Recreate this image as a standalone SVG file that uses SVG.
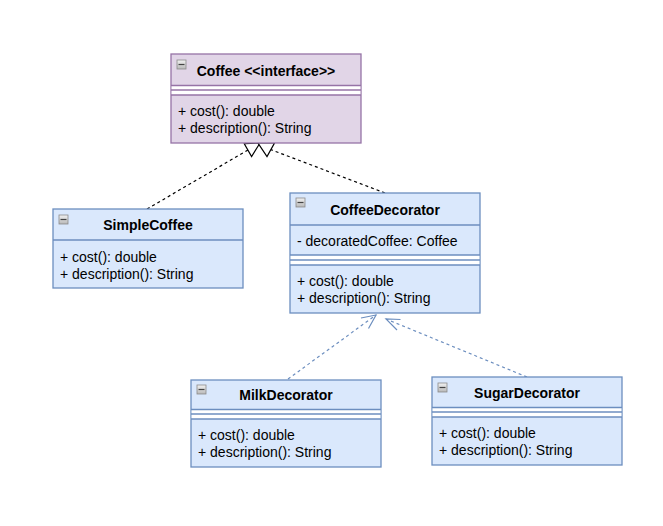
<svg xmlns="http://www.w3.org/2000/svg" width="663" height="526" viewBox="0 0 663 526">
<defs>
<linearGradient id="ig" x1="0" y1="0" x2="0" y2="1">
<stop offset="0" stop-color="#f2f2f2"/>
<stop offset="1" stop-color="#b8b8b8"/>
</linearGradient>
</defs>
<style>
.pbox{fill:#e1d5e7;stroke:#9673a6;stroke-width:1.3}
.pline{stroke:#9673a6;stroke-width:1.3;fill:none}
.bbox{fill:#dae8fc;stroke:#6c8ebf;stroke-width:1.3}
.bline{stroke:#6c8ebf;stroke-width:1.3;fill:none}
.gap{fill:#ffffff;stroke:none}
.title{font-family:"Liberation Sans",Arial,sans-serif;font-size:14px;font-weight:bold;fill:#000;text-anchor:middle}
.txt{font-family:"Liberation Sans",Arial,sans-serif;font-size:14px;fill:#000}
.icon{fill:url(#ig);stroke:#8a8a8a;stroke-width:0.8}
.iconbar{stroke:#444;stroke-width:1.2}
.dk{stroke:#000;stroke-width:1.2;fill:none;stroke-dasharray:3 3}
.bl{stroke:#6c8ebf;stroke-width:1.2;fill:none;stroke-dasharray:3 3}
.tri{fill:#ffffff;stroke:#000;stroke-width:1.2}
.open{stroke:#6c8ebf;stroke-width:1.2;fill:none}
</style>

<g id="connectors">
<line class="dk" x1="147" y1="209" x2="248" y2="150"/>
<line class="dk" x1="385" y1="193" x2="270.5" y2="149.5"/>
<line class="bl" x1="288" y1="379" x2="376" y2="315"/>
<line class="bl" x1="527" y1="377" x2="386" y2="319"/>
<polygon class="tri" points="260,143 244.3,143.7 251.6,156.5"/>
<polygon class="tri" points="258,143 274.5,143 267,156.5"/>
<polyline class="open" points="361,318 376,315 368.5,328.5"/>
<polyline class="open" points="400.5,319.5 386,319 397,330"/>
</g>

<g id="coffee">
<rect class="pbox" x="171" y="54" width="190" height="89"/>
<rect class="gap" x="171.6" y="85.5" width="188.8" height="9.5"/>
<line class="pline" x1="171" y1="85.5" x2="361" y2="85.5"/>
<line class="pline" x1="171" y1="90" x2="361" y2="90"/>
<line class="pline" x1="171" y1="95" x2="361" y2="95"/>
<rect class="icon" x="177" y="60" width="9" height="9"/>
<line class="iconbar" x1="178.5" y1="64.5" x2="184.5" y2="64.5"/>
<text class="title" x="266" y="75.5">Coffee &lt;&lt;interface&gt;&gt;</text>
<text class="txt" x="178" y="116">+ cost(): double</text>
<text class="txt" x="178" y="133">+ description(): String</text>
</g>

<g id="simplecoffee">
<rect class="bbox" x="53" y="209" width="190" height="79"/>
<line class="bline" x1="53" y1="240" x2="243" y2="240"/>
<rect class="icon" x="59" y="215" width="9" height="9"/>
<line class="iconbar" x1="60.5" y1="219.5" x2="66.5" y2="219.5"/>
<text class="title" x="148" y="230">SimpleCoffee</text>
<text class="txt" x="60" y="261.5">+ cost(): double</text>
<text class="txt" x="60" y="278.5">+ description(): String</text>
</g>

<g id="coffeedecorator">
<rect class="bbox" x="290" y="193" width="190" height="120"/>
<line class="bline" x1="290" y1="225" x2="480" y2="225"/>
<rect class="gap" x="290.6" y="255" width="188.8" height="10"/>
<line class="bline" x1="290" y1="255" x2="480" y2="255"/>
<line class="bline" x1="290" y1="260" x2="480" y2="260"/>
<line class="bline" x1="290" y1="265" x2="480" y2="265"/>
<rect class="icon" x="296" y="198" width="9" height="9"/>
<line class="iconbar" x1="297.5" y1="202.5" x2="303.5" y2="202.5"/>
<text class="title" x="385" y="214.5">CoffeeDecorator</text>
<text class="txt" x="297" y="246">- decoratedCoffee: Coffee</text>
<text class="txt" x="297" y="286">+ cost(): double</text>
<text class="txt" x="297" y="303">+ description(): String</text>
</g>

<g id="milkdecorator">
<rect class="bbox" x="191" y="380" width="190" height="87"/>
<rect class="gap" x="191.6" y="409.5" width="188.8" height="9.5"/>
<line class="bline" x1="191" y1="409.5" x2="381" y2="409.5"/>
<line class="bline" x1="191" y1="414" x2="381" y2="414"/>
<line class="bline" x1="191" y1="419" x2="381" y2="419"/>
<rect class="icon" x="197" y="385" width="9" height="9"/>
<line class="iconbar" x1="198.5" y1="389.5" x2="204.5" y2="389.5"/>
<text class="title" x="286" y="400">MilkDecorator</text>
<text class="txt" x="198" y="440">+ cost(): double</text>
<text class="txt" x="198" y="457">+ description(): String</text>
</g>

<g id="sugardecorator">
<rect class="bbox" x="432" y="377" width="190" height="88"/>
<rect class="gap" x="432.6" y="407.5" width="188.8" height="9.5"/>
<line class="bline" x1="432" y1="407.5" x2="622" y2="407.5"/>
<line class="bline" x1="432" y1="412" x2="622" y2="412"/>
<line class="bline" x1="432" y1="417" x2="622" y2="417"/>
<rect class="icon" x="438" y="383" width="9" height="9"/>
<line class="iconbar" x1="439.5" y1="387.5" x2="445.5" y2="387.5"/>
<text class="title" x="527" y="398">SugarDecorator</text>
<text class="txt" x="439" y="438">+ cost(): double</text>
<text class="txt" x="439" y="455">+ description(): String</text>
</g>
</svg>
